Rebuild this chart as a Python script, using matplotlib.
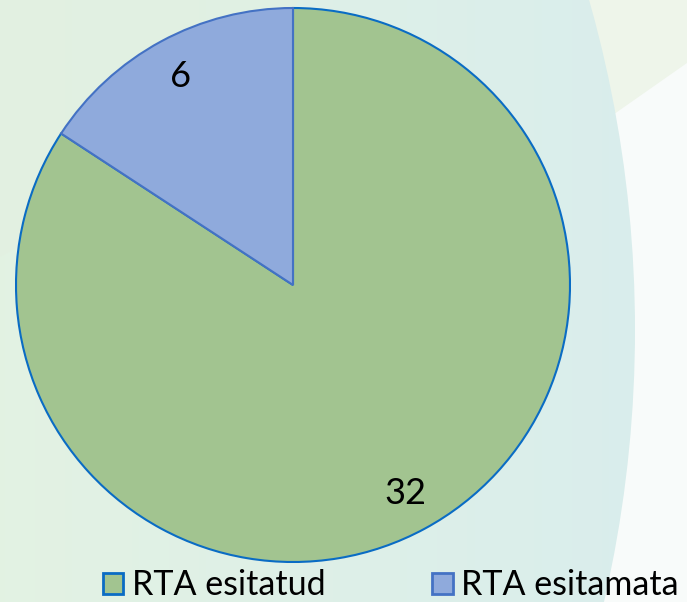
import numpy as np
import matplotlib.pyplot as plt
from matplotlib.patches import Circle, Polygon, Patch

labels = ["RTA esitatud", "RTA esitamata"]
values = [32, 6]
colors = ["#a2c490", "#8faadc"]
edges = ["#0a6cc4", "#4472c4"]

plt.rcParams['font.family'] = ['Lato', 'DejaVu Sans']

fig = plt.figure(figsize=(6.87, 6.02), dpi=100)
fig.patch.set_facecolor("#f8fbfa")
ax = fig.add_axes([0, 0, 1, 1])
ax.set_xlim(0, 687)
ax.set_ylim(0, 602)
ax.set_aspect("equal")
ax.axis("off")

# background decoration
ax.add_patch(Polygon([[560, 450], [687, 539], [687, 602], [560, 602]],
                     closed=True, facecolor="#eef5ea", edgecolor="none", zorder=-1))
grad = np.linspace(0, 1, 256)
c1 = np.array([0.89, 0.95, 0.89])
c2 = np.array([0.85, 0.93, 0.93])
img = c1[None, None, :] * (1 - grad[None, :, None]) + c2[None, None, :] * grad[None, :, None]
img = np.repeat(img, 2, axis=0)
big = Circle((-575, 272), 1210, transform=ax.transData)
im = ax.imshow(img, extent=(0, 687, 0, 602), aspect="auto", zorder=0)
im.set_clip_path(big)
ax.add_patch(Polygon([[0, 602], [0, 345], [140, 420], [300, 602]],
                     closed=True, facecolor="#e2f0e1", edgecolor="none", alpha=0.6, zorder=0.5))

wedges, texts, autotexts = ax.pie(
    values, colors=colors, startangle=90, counterclock=False,
    center=(293, 317), radius=277, frame=True,
    autopct=lambda p: f"{p * sum(values) / 100:.0f}", pctdistance=0.855,
    textprops=dict(fontsize=26, color="black"),
    wedgeprops=dict(linewidth=1.5),
)
for w, e in zip(wedges, edges):
    w.set_edgecolor(e)
    w.set_zorder(2)
for t in autotexts:
    t.set_zorder(3)

ax.set_xlim(0, 687)
ax.set_ylim(0, 602)
ax.axis("off")

handles = [Patch(facecolor=c, edgecolor=e, linewidth=2) for c, e in zip(colors, edges)]
ax.legend(handles, labels, loc="lower left", bbox_to_anchor=(0.105, -0.05),
          ncol=2, frameon=False, fontsize=24.5, handlelength=0.6, handleheight=0.6,
          handletextpad=0.25, columnspacing=3.15)

fig.savefig("out.png", dpi=100, facecolor=fig.get_facecolor())
